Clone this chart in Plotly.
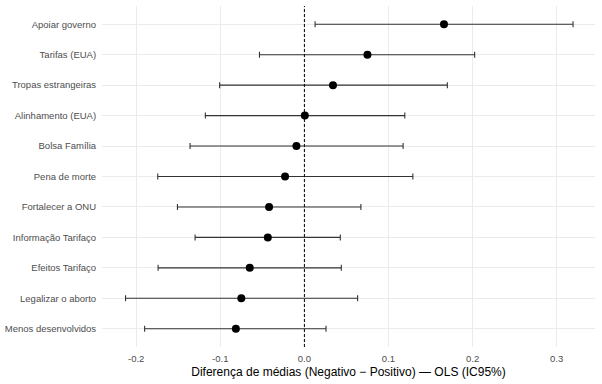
import plotly.graph_objects as go

categories = ["Apoiar governo", "Tarifas (EUA)", "Tropas estrangeiras", "Alinhamento (EUA)",
              "Bolsa Família", "Pena de morte", "Fortalecer a ONU", "Informação Tarifaço",
              "Efeitos Tarifaço", "Legalizar o aborto", "Menos desenvolvidos"]
estimate = [0.166, 0.075, 0.034, 0.0005, -0.0095, -0.023, -0.042, -0.0435, -0.065, -0.075, -0.0815]
ci_low = [0.0127, -0.0534, -0.1008, -0.1178, -0.136, -0.1744, -0.151, -0.130, -0.174, -0.2127, -0.190]
ci_high = [0.3195, 0.2025, 0.170, 0.1194, 0.1174, 0.129, 0.0672, 0.0427, 0.0439, 0.0633, 0.0257]
x_ticks = [-0.2, -0.1, 0.0, 0.1, 0.2, 0.3]
x_ticklabels = ["-0.2", "-0.1", "0.0", "0.1", "0.2", "0.3"]

FONT = "Liberation Sans, Arial, sans-serif"

fig = go.Figure()
fig.add_shape(type="line", x0=0, x1=0, xref="x", y0=0, y1=1, yref="paper",
              line=dict(color="black", width=1, dash="3px,2px"), layer="above")
fig.add_trace(go.Scatter(
    x=estimate, y=categories, mode="markers",
    marker=dict(color="black", size=8),
    error_x=dict(type="data", symmetric=False,
                 array=[h - e for h, e in zip(ci_high, estimate)],
                 arrayminus=[e - l for e, l in zip(estimate, ci_low)],
                 color="#333333", thickness=1.1, width=3),
    showlegend=False, hoverinfo="skip",
))

fig.update_layout(
    width=602, height=384,
    margin=dict(l=102, r=7, t=6, b=37),
    paper_bgcolor="white", plot_bgcolor="white",
    font=dict(family=FONT),
    xaxis=dict(range=[-0.2407, 0.3456], tickvals=x_ticks, ticktext=x_ticklabels,
               showgrid=True, gridcolor="#EBEBEB", gridwidth=1, zeroline=False,
               showline=False, ticks="outside", ticklen=3, tickcolor="rgba(0,0,0,0)",
               tickfont=dict(size=9.5, color="#4D4D4D", family=FONT),
               title=dict(text="Diferença de médias (Negativo − Positivo) — OLS (IC95%)",
                          font=dict(size=12, color="black", family=FONT), standoff=4)),
    yaxis=dict(type="category", categoryorder="array", categoryarray=categories[::-1],
               range=[-0.6, 10.6], showgrid=True, gridcolor="#EBEBEB", gridwidth=1,
               zeroline=False, showline=False, ticks="outside", ticklen=3,
               tickcolor="rgba(0,0,0,0)",
               tickfont=dict(size=9.5, color="#4D4D4D", family=FONT)),
)

fig.write_html("out.html", post_script="document.body.style.margin='0';",
               config={"displayModeBar": False})
